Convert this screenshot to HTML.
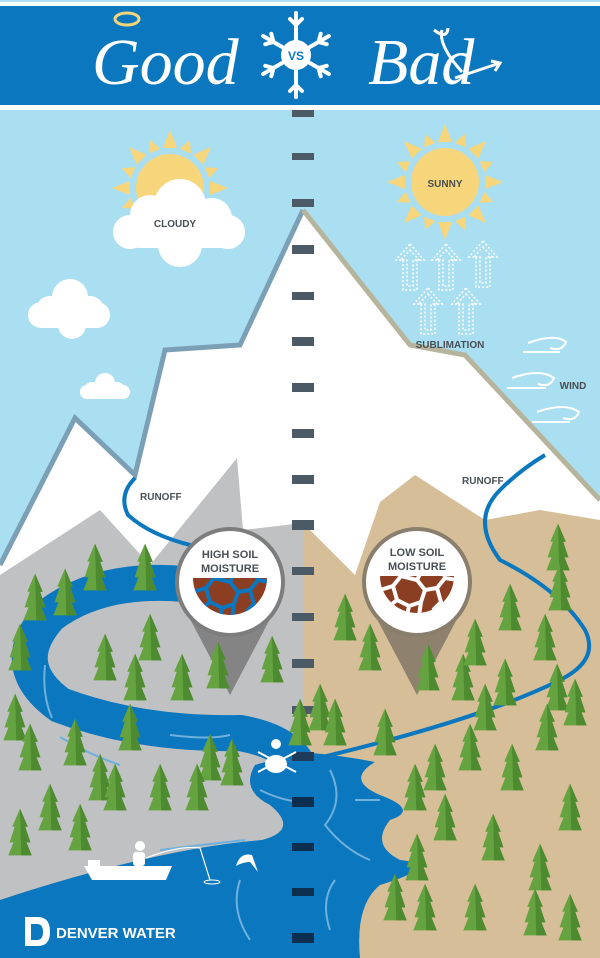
<!DOCTYPE html>
<html><head><meta charset="utf-8"><style>
html,body{margin:0;padding:0;background:#fff}
svg{display:block}
text{font-family:"Liberation Sans",sans-serif;font-weight:bold}
.scr{font-family:"Liberation Serif",serif;font-style:italic;font-weight:normal}
</style></head><body>
<svg width="600" height="958" viewBox="0 0 600 958" xmlns="http://www.w3.org/2000/svg">
<defs>
<g id="tree" transform="scale(1.3)"><polygon points="0,-28 6,-14 4,-14 8,-2 5,-2 9,8 -9,8 -5,-2 -8,-2 -4,-14 -6,-14" fill="#64a33f"/><polygon points="0,-28 6,-14 4,-14 8,-2 5,-2 9,8 1,8 0,-28" fill="#4d8a30"/></g>
<g id="sun"><circle r="34" fill="#f7d57a"/>
<g fill="#f7d57a"><polygon points="-7,-40 7,-40 0,-58"/><polygon points="-7,40 7,40 0,58"/><polygon points="-40,-7 -40,7 -58,0"/><polygon points="40,-7 40,7 58,0"/>
<g transform="rotate(45)"><polygon points="-7,-40 7,-40 0,-58"/><polygon points="-7,40 7,40 0,58"/><polygon points="-40,-7 -40,7 -58,0"/><polygon points="40,-7 40,7 58,0"/></g>
<g transform="rotate(22.5)"><polygon points="-6,-40 6,-40 0,-52"/><polygon points="-6,40 6,40 0,52"/><polygon points="-40,-6 -40,6 -52,0"/><polygon points="40,-6 40,6 52,0"/></g>
<g transform="rotate(67.5)"><polygon points="-6,-40 6,-40 0,-52"/><polygon points="-6,40 6,40 0,52"/><polygon points="-40,-6 -40,6 -52,0"/><polygon points="40,-6 40,6 52,0"/></g></g></g>
<g id="arrow" fill="none" stroke="#fff" stroke-width="1.5" stroke-dasharray="2 2"><polygon points="0,-24 14,-8 7,-8 7,22 -7,22 -7,-8 -14,-8"/><polygon points="0,-18 9,-8 3,-8 3,18 -3,18 -3,-8 -9,-8"/></g>
<clipPath id="semiL"><path d="M193,578 L267,578 A37,37 0 0 1 193,578 Z"/></clipPath>
<clipPath id="semiR"><path d="M380,576 L454,576 A37,37 0 0 1 380,576 Z"/></clipPath>
<g id="cracks" fill="none" stroke-width="4" stroke-linejoin="round">
<path d="M-37,14 L-24,10 L-16,0 L-18,-8 M-24,10 L-20,24 L-8,30 L4,26 L8,14 L0,4 L-16,0 M0,4 L6,-8 M8,14 L20,12 L28,2 L26,-8 M20,12 L24,26 L16,34 M4,26 L2,40 M-20,24 L-30,32 M28,2 L40,4 M-8,30 L-10,40"/>
</g>
</defs>
<rect width="600" height="958" fill="#aadff2"/>
<rect y="2" width="600" height="4" fill="#fff"/>
<rect y="6" width="600" height="99" fill="#0b77be"/>
<rect y="105" width="600" height="5" fill="#fff"/>
<text class="scr" x="92" y="84" font-size="66" fill="#fff" style="font-family:'Liberation Serif',serif;font-style:italic;font-weight:normal">Good</text>
<ellipse cx="127" cy="19" rx="12" ry="6" fill="none" stroke="#f5d57a" stroke-width="3"/>
<text class="scr" x="368" y="84" font-size="66" fill="#fff" style="font-family:'Liberation Serif',serif;font-style:italic;font-weight:normal">Bad</text>
<path d="M455,78 L500,63 M491,61 L500,63 L495,71 M462,72 Q438,45 442,30 M434,30 Q447,40 448,28" stroke="#fff" stroke-width="3" fill="none"/>
<g transform="translate(296,55)" stroke="#fff" stroke-width="4" stroke-linecap="round">
<g><line x1="0" y1="-42" x2="0" y2="42"/><line x1="-6" y1="-36" x2="0" y2="-30"/><line x1="6" y1="-36" x2="0" y2="-30"/><line x1="-6" y1="36" x2="0" y2="30"/><line x1="6" y1="36" x2="0" y2="30"/></g>
<g transform="rotate(60)"><line x1="0" y1="-38" x2="0" y2="38"/><line x1="-6" y1="-32" x2="0" y2="-26"/><line x1="6" y1="-32" x2="0" y2="-26"/><line x1="-6" y1="32" x2="0" y2="26"/><line x1="6" y1="32" x2="0" y2="26"/></g>
<g transform="rotate(-60)"><line x1="0" y1="-38" x2="0" y2="38"/><line x1="-6" y1="-32" x2="0" y2="-26"/><line x1="6" y1="-32" x2="0" y2="-26"/><line x1="-6" y1="32" x2="0" y2="26"/><line x1="6" y1="32" x2="0" y2="26"/></g>
<circle r="15" fill="#fff" stroke="none"/>
</g>
<text x="296" y="60" text-anchor="middle" font-size="12" fill="#0b77be">VS</text>

<use href="#sun" x="170" y="188"/>
<g fill="#fff"><circle cx="150" cy="215" r="20"/><circle cx="180" cy="205" r="26"/><circle cx="212" cy="218" r="20"/><circle cx="130" cy="232" r="17"/><circle cx="228" cy="232" r="17"/><rect x="125" y="220" width="110" height="28" rx="14"/><circle cx="180" cy="245" r="22"/></g>
<text x="175" y="227" text-anchor="middle" font-size="10" fill="#4a4f55">CLOUDY</text>
<g fill="#fff"><circle cx="70" cy="297" r="18"/><circle cx="50" cy="310" r="14"/><circle cx="90" cy="310" r="14"/><rect x="28" y="302" width="82" height="26" rx="13"/><circle cx="72" cy="325" r="14"/></g>
<g fill="#fff"><circle cx="105" cy="383" r="10"/><circle cx="92" cy="390" r="8"/><circle cx="117" cy="390" r="8"/><rect x="80" y="385" width="50" height="14" rx="7"/></g>
<use href="#sun" x="445" y="182"/>
<text x="445" y="187" text-anchor="middle" font-size="10" fill="#4a4f55">SUNNY</text>
<use href="#arrow" x="410" y="268"/><use href="#arrow" x="446" y="268"/><use href="#arrow" x="483" y="265"/>
<use href="#arrow" x="428" y="312"/><use href="#arrow" x="466" y="312"/>
<g fill="none" stroke="#fff" stroke-width="2"><path d="M528,343 Q555,333 566,342 Q562,352 550,348 M523,352 L560,352"/><path d="M512,378 Q540,368 554,378 Q550,388 538,384 M507,388 L546,388"/><path d="M537,412 Q565,402 579,412 Q575,422 563,418 M532,422 L570,422"/></g>
<text x="573" y="389" text-anchor="middle" font-size="10" fill="#4a4f55">WIND</text>

<polygon points="0,565 75,418 135,475 165,350 240,345 303,210 410,345 465,355 600,500 600,958 0,958" fill="#fff"/>
<polyline points="0,565 75,418 135,475 165,350 240,345 303,210" fill="none" stroke="#7b9fb5" stroke-width="5"/>
<polyline points="303,210 410,345 465,355 600,500" fill="none" stroke="#b6b49c" stroke-width="5"/>
<text x="450" y="348" text-anchor="middle" font-size="10" fill="#4a4f55">SUBLIMATION</text>
<polygon points="0,575 100,510 150,565 237,458 243,530 303,523 303,958 0,958" fill="#c0c1c2"/>
<polygon points="303,523 355,575 380,502 415,475 485,520 540,510 600,520 600,958 303,958" fill="#d6bf98"/>

<g fill="#4b5a65">
<rect x="292" y="110" width="22" height="7"/><rect x="292" y="153" width="22" height="7"/><rect x="292" y="199" width="22" height="8"/><rect x="292" y="245" width="22" height="9"/><rect x="292" y="292" width="22" height="8"/><rect x="292" y="337" width="22" height="9"/><rect x="292" y="383" width="22" height="9"/><rect x="292" y="429" width="22" height="9"/><rect x="292" y="475" width="22" height="9"/><rect x="292" y="520" width="22" height="10"/><rect x="292" y="567" width="22" height="8"/><rect x="292" y="613" width="22" height="8"/><rect x="292" y="659" width="22" height="9"/><rect x="292" y="706" width="22" height="8"/>
</g>

<path d="M135,478 Q118,495 128,515 Q150,535 190,545 Q215,555 210,580" fill="none" stroke="#0b77be" stroke-width="4"/>
<text x="140" y="500" font-size="10" fill="#4a4f55">RUNOFF</text>
<path d="M545,455 Q520,470 500,490 Q470,520 500,560 Q560,590 585,630 Q600,660 560,680 Q480,720 310,760" fill="none" stroke="#0b77be" stroke-width="4"/>
<text x="462" y="484" font-size="10" fill="#4a4f55">RUNOFF</text>

<path d="M215,588 Q110,570 50,615 Q5,665 60,705 Q140,735 240,733 Q290,742 300,770" fill="none" stroke="#0b77be" stroke-width="36"/>
<path d="M0,900 Q60,880 120,865 Q200,845 262,840 Q300,830 270,805 Q240,790 255,765 L300,752 Q340,755 375,762 Q345,780 380,795 Q420,810 390,820 Q370,845 400,860 Q445,865 380,885 Q355,905 360,958 L0,958 Z" fill="#0b77be"/>
<g fill="none" stroke="#6fb0dc" stroke-width="2"><path d="M45,665 Q42,695 52,718"/><path d="M60,737 Q90,755 120,765"/><path d="M170,735 Q210,740 230,735"/><path d="M260,790 Q280,800 300,802"/><path d="M330,770 Q345,800 325,825 Q345,850 370,860"/><path d="M240,880 Q230,910 250,940"/><path d="M335,880 Q320,900 330,930"/><path d="M160,850 Q200,845 245,840"/><path d="M355,800 Q370,800 380,800"/></g>

<path d="M180,600 L230,695 L280,600 Z" fill="#7d7d7d" opacity="0.9"/>
<circle cx="230" cy="582" r="53" fill="#fff" stroke="#7d7d7d" stroke-width="4"/>
<g clip-path="url(#semiL)"><rect x="190" y="576" width="80" height="45" fill="#8b3e22"/><g transform="translate(230,578)" stroke="#0b77be"><use href="#cracks"/></g></g>
<text x="230" y="558" text-anchor="middle" font-size="11" fill="#4a4f55">HIGH SOIL</text>
<text x="230" y="572" text-anchor="middle" font-size="11" fill="#4a4f55">MOISTURE</text>
<path d="M367,600 L417,695 L467,600 Z" fill="#8a7e6c" opacity="0.95"/>
<circle cx="417" cy="582" r="53" fill="#fff" stroke="#8a7e6c" stroke-width="4"/>
<g clip-path="url(#semiR)"><rect x="377" y="574" width="80" height="45" fill="#8b3e22"/><g transform="translate(417,576)" stroke="#fff"><use href="#cracks"/></g></g>
<text x="417" y="556" text-anchor="middle" font-size="11" fill="#4a4f55">LOW SOIL</text>
<text x="417" y="570" text-anchor="middle" font-size="11" fill="#4a4f55">MOISTURE</text>

<rect x="292" y="752" width="22" height="9" fill="#1e3c5a"/>
<g fill="#0d2f4f"><rect x="292" y="797" width="22" height="10"/><rect x="292" y="843" width="22" height="8"/><rect x="292" y="888" width="22" height="8"/><rect x="292" y="933" width="22" height="10"/></g>

<g>
<use href="#tree" x="35" y="610"/><use href="#tree" x="95" y="580"/><use href="#tree" x="145" y="580"/><use href="#tree" x="65" y="605"/>
<use href="#tree" x="20" y="660"/><use href="#tree" x="105" y="670"/><use href="#tree" x="135" y="690"/><use href="#tree" x="150" y="650"/><use href="#tree" x="182" y="690"/><use href="#tree" x="218" y="678"/><use href="#tree" x="272" y="672"/>
<use href="#tree" x="15" y="730"/><use href="#tree" x="30" y="760"/><use href="#tree" x="75" y="755"/><use href="#tree" x="130" y="740"/><use href="#tree" x="100" y="790"/><use href="#tree" x="115" y="800"/><use href="#tree" x="160" y="800"/><use href="#tree" x="210" y="770"/><use href="#tree" x="232" y="775"/><use href="#tree" x="50" y="820"/><use href="#tree" x="20" y="845"/><use href="#tree" x="80" y="840"/><use href="#tree" x="197" y="800"/><use href="#tree" x="300" y="735"/>
<use href="#tree" x="345" y="630"/><use href="#tree" x="370" y="660"/><use href="#tree" x="320" y="720"/><use href="#tree" x="335" y="735"/><use href="#tree" x="385" y="745"/><use href="#tree" x="428" y="680"/><use href="#tree" x="463" y="690"/><use href="#tree" x="475" y="655"/><use href="#tree" x="485" y="720"/><use href="#tree" x="510" y="620"/><use href="#tree" x="505" y="695"/><use href="#tree" x="545" y="650"/><use href="#tree" x="558" y="560"/><use href="#tree" x="557" y="700"/><use href="#tree" x="575" y="715"/><use href="#tree" x="560" y="600"/>
<use href="#tree" x="415" y="800"/><use href="#tree" x="435" y="780"/><use href="#tree" x="470" y="760"/><use href="#tree" x="512" y="780"/><use href="#tree" x="547" y="740"/><use href="#tree" x="570" y="820"/><use href="#tree" x="445" y="830"/><use href="#tree" x="417" y="870"/><use href="#tree" x="493" y="850"/><use href="#tree" x="540" y="880"/><use href="#tree" x="395" y="910"/><use href="#tree" x="425" y="920"/><use href="#tree" x="475" y="920"/><use href="#tree" x="570" y="930"/><use href="#tree" x="535" y="925"/>
</g>

<g fill="#fff"><circle cx="276" cy="744" r="5"/><ellipse cx="276" cy="764" rx="11" ry="9"/><line x1="258" y1="772" x2="296" y2="752" stroke="#fff" stroke-width="2"/><line x1="258" y1="752" x2="296" y2="772" stroke="#fff" stroke-width="2"/></g>
<g fill="#fff"><path d="M84,866 L172,866 L166,880 L92,880 Z"/><rect x="88" y="860" width="12" height="8"/><circle cx="140" cy="846" r="5"/><rect x="133" y="852" width="12" height="14" rx="3"/></g>
<path d="M146,858 Q180,845 200,848 L210,880" stroke="#fff" stroke-width="1.2" fill="none"/>
<ellipse cx="212" cy="882" rx="8" ry="2" fill="none" stroke="#fff"/>
<path d="M236,866 Q240,852 252,855 L258,872 L250,862 Q243,862 236,866Z" fill="#fff"/>

<path d="M25,917 L38,917 Q50,917 50,932 Q50,946 38,946 L25,946 Z M31,924 L31,940 L37,940 Q43,940 43,932 Q43,924 37,924 Z" fill="#fff" fill-rule="evenodd"/>
<text x="56" y="938" font-size="15" fill="#fff">DENVER WATER</text>
</svg>
</body></html>
